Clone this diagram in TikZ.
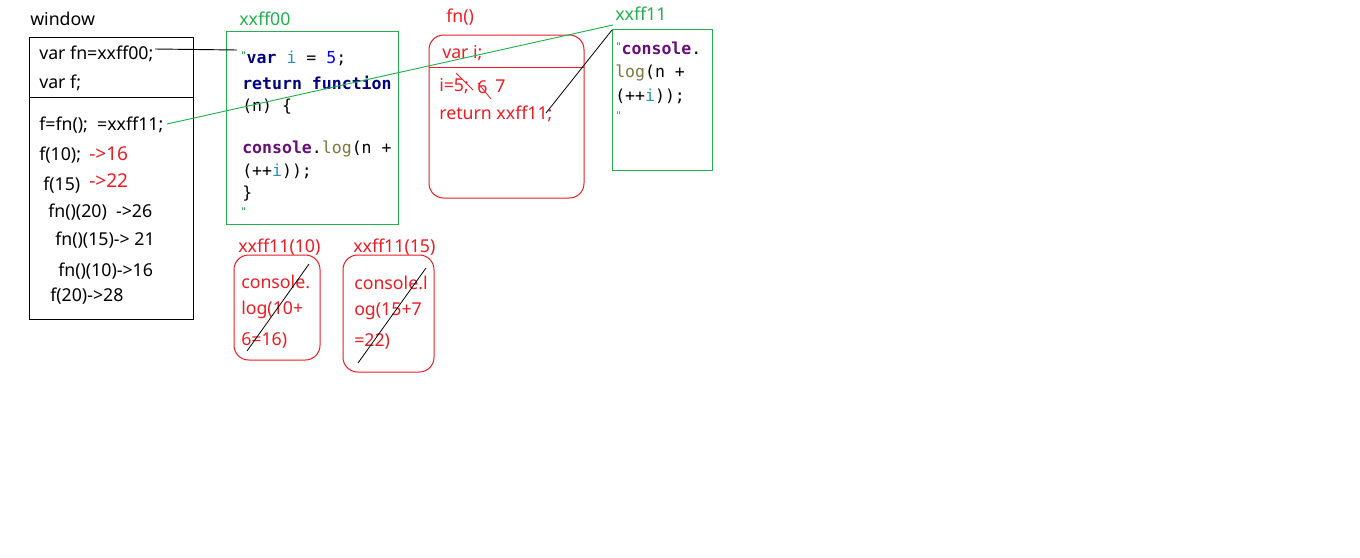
\documentclass[tikz,border=0pt]{standalone}
\usepackage{fontspec}
\setmainfont{Noto Sans}
\setmonofont{DejaVu Sans Mono}
\definecolor{pr}{RGB}{237,28,36}
\definecolor{pg}{RGB}{34,177,76}
\definecolor{kw}{RGB}{0,0,128}
\definecolor{idc}{RGB}{43,145,175}
\definecolor{num}{RGB}{0,0,255}
\definecolor{fnc}{RGB}{102,14,122}
\definecolor{meth}{RGB}{125,120,60}
\newcommand{\qm}{{\color{pg}\fontsize{8}{8}\selectfont"}}
\begin{document}
\begin{tikzpicture}[x=0.75pt,y=-0.75pt,
  txt/.style={inner sep=0,anchor=west,font=\fontsize{13.3}{15}\selectfont},
  rtxt/.style={txt,text=pr},
  bigr/.style={rtxt,font=\fontsize{14.3}{16}\selectfont},
  gtxt/.style={txt,text=pg},
  code/.style={inner sep=0,anchor=west,font=\ttfamily\fontsize{12.4}{14}\selectfont},
  gbox/.style={draw=pg,line width=0.75pt},
  rbox/.style={draw=pr,line width=0.75pt,rounded corners=11pt},
  strike/.style={line width=0.6pt}]
\fill[white] (0,0) rectangle (1360,557);

% window
\node[txt] (wlab) at (30,19) {window};
\draw[line width=0.75pt] (29,37) rectangle (193,319);
\draw[line width=0.75pt] (29,97) -- (193,97);
\node[txt] (w1) at (39,54) {var fn=xxff00;};
\node[txt] (w2) at (39,83) {var f;};
\node[txt] (w3) at (39,125) {f=fn();\ \ =xxff11;};
\node[txt] (w4) at (39,155) {f(10);};
\node[bigr] (w4r) at (89,154) {->16};
\node[txt] (w5) at (43,185) {f(15)};
\node[bigr] (w5r) at (89,181) {->22};
\node[txt] (w6) at (48,212) {fn()(20)\ \ ->26};
\node[txt] (w7) at (55,240) {fn()(15)-> 21};
\node[txt] (w8) at (58,271) {fn()(10)->16};
\node[txt] (w9) at (50,296) {f(20)->28};

% xxff00
\node[gtxt] (l00) at (239,19) {xxff00};
\draw[gbox] (226,31) rectangle (398,224);
\node[code] (c1) at (240,58) {\raisebox{3pt}{\qm}\textbf{\color{kw}var} {\color{idc}i} = {\color{num}5};};
\node[code] (c2) at (242,83) {\textbf{\color{kw}return function}};
\node[code] (c3) at (242,107) {(n) \{};
\node[code] (c4) at (242,149) {\textbf{\color{fnc}console}.{\color{meth}log}(n +};
\node[code] (c5) at (242,171) {(++{\color{idc}i}));};
\node[code] (c6) at (242,194) {\}};
\node[code] (c7) at (240,212) {\qm};

% fn()
\node[rtxt] (lfn) at (446,17) {fn()};
\draw[rbox] (429,35) rectangle (584,198);
\draw[draw=pr,line width=0.75pt] (429,67) -- (584,67);
\node[rtxt] (f1) at (442,53) {var i;};
\node[rtxt] (f2) at (439,86) {i=5;};
\node[rtxt] (f2b) at (477,87) {6};
\node[rtxt] (f2c) at (495,86) {7};
\node[rtxt] (f3) at (439,114) {return xxff11;};
\draw[pr,strike] (456,73) -- (473,90);
\draw[pr,strike] (478,83) -- (491,99);

% xxff11
\node[gtxt] (l11) at (615,14) {xxff11};
\draw[gbox] (612,29) rectangle (712,170);
\node[code] (d1) at (615,48) {\raisebox{3pt}{\qm}\textbf{\color{fnc}console}.};
\node[code] (d2) at (615,73) {{\color{meth}log}(n +};
\node[code] (d3) at (615,96) {(++{\color{idc}i}));};
\node[code] (d4) at (615,116) {\qm};

% xxff11(10)
\draw[rbox] (234,255) rectangle (320,360);
\node[rtxt] (la) at (238,247) {xxff11(10)};
\node[rtxt] (a1) at (241,282) {console.};
\node[rtxt] (a2) at (241,310) {log(10+};
\node[rtxt] (a3) at (241,340) {6=16)};
\draw[strike] (247,351) -- (309,264);

% xxff11(15)
\draw[rbox] (343,255) rectangle (434,372);
\node[rtxt] (lb) at (353,247) {xxff11(15)};
\node[rtxt] (b1) at (354,283) {console.l};
\node[rtxt] (b2) at (354,311) {og(15+7};
\node[rtxt] (b3) at (354,341) {=22)};
\draw[strike] (358,363) -- (426,268);

% connectors
\coordinate (p1) at (155,49);
\coordinate (p2) at (237,50);
\draw[line width=0.7pt] (p1) -- (p2);
\coordinate (q1) at (167,124);
\coordinate (q2) at (613,25);
\draw[pg,line width=0.7pt] (q1) -- (q2);
\coordinate (r1) at (546,113);
\coordinate (r2) at (612,30);
\draw[line width=0.6pt] (r1) -- (r2);
\end{tikzpicture}
\end{document}
